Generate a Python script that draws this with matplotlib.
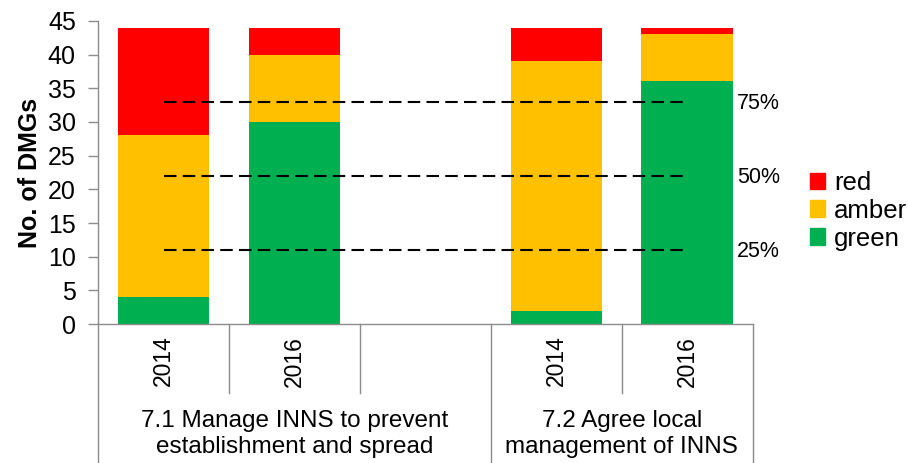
import numpy as np
import matplotlib
matplotlib.use("Agg")
import matplotlib.pyplot as plt
from matplotlib.patches import Patch

plt.rcParams["font.family"] = ["Liberation Sans", "DejaVu Sans"]

# 数据
years = ["2014", "2016", "", "2014", "2016"]
groups = ["7.1 Manage INNS to prevent\nestablishment and spread",
          "7.2 Agree local\nmanagement of INNS"]
green = [4, 30, 0, 2, 36]
amber = [24, 10, 0, 37, 7]
red = [16, 4, 0, 5, 1]
thresholds = [11, 22, 33]
threshold_labels = ["25%", "50%", "75%"]

c_red = "#FF0000"
c_amber = "#FFC000"
c_green = "#00B050"
grid_col = "#8C8C8C"

fig = plt.figure(figsize=(9.08, 4.63), dpi=100)
ax = fig.add_axes([0.108, 0.300, 0.721, 0.655])

x = np.arange(len(years))
show = np.array([g + a + r > 0 for g, a, r in zip(green, amber, red)])
xs = x[show]
g = np.array(green)[show]
a = np.array(amber)[show]
r = np.array(red)[show]
ax.bar(xs, g, width=0.7, color=c_green)
ax.bar(xs, a, width=0.7, bottom=g, color=c_amber)
ax.bar(xs, r, width=0.7, bottom=g + a, color=c_red)

# 虚线
ax.hlines(thresholds, 0, 4, colors="black", linestyles=(0, (6, 3)), linewidth=1.5)
for yv, lab in zip(thresholds, threshold_labels):
    ax.text(4.38, yv - 0.2, lab, fontsize=15.5, va="center", ha="left")

ax.set_xlim(-0.5, 4.5)
ax.set_ylim(0, 45)
ax.set_yticks(range(0, 46, 5))
ax.tick_params(axis="y", labelsize=18, color=grid_col, length=7, width=1, pad=9)
ax.set_xticks([])
ax.set_ylabel("No. of DMGs", fontsize=18, fontweight="bold", labelpad=4)

for s in ["top", "right"]:
    ax.spines[s].set_visible(False)
for s in ["left", "bottom"]:
    ax.spines[s].set_color(grid_col)
    ax.spines[s].set_linewidth(1)

# 分类表格
tr = ax.get_xaxis_transform()
year_bottom = -0.228
table_bottom = -0.47
for xv in [0.5, 1.5, 3.5]:
    ax.plot([xv, xv], [0, year_bottom], transform=tr, color=grid_col, lw=1, clip_on=False)
for xv in [-0.5, 2.5, 4.5]:
    ax.plot([xv, xv], [0, table_bottom], transform=tr, color=grid_col, lw=1, clip_on=False)

for xv, yr in zip(x, years):
    if yr:
        ax.text(xv, -0.122, yr, transform=tr, rotation=90, fontsize=16.5,
                ha="center", va="center")
ax.text(1.0, -0.362, groups[0], transform=tr, fontsize=17.5, ha="center", va="center",
        linespacing=1.2)
ax.text(3.5, -0.362, groups[1], transform=tr, fontsize=17.5, ha="center", va="center",
        linespacing=1.2)

handles = [Patch(color=c_red, label="red"),
           Patch(color=c_amber, label="amber"),
           Patch(color=c_green, label="green")]
fig.legend(handles=handles, loc="center left", bbox_to_anchor=(0.892, 0.545),
           frameon=False, fontsize=18.5, handlelength=0.6, handleheight=0.6,
           handletextpad=0.35, labelspacing=0.15, borderaxespad=0, borderpad=0)

fig.savefig("out.png", dpi=100)
